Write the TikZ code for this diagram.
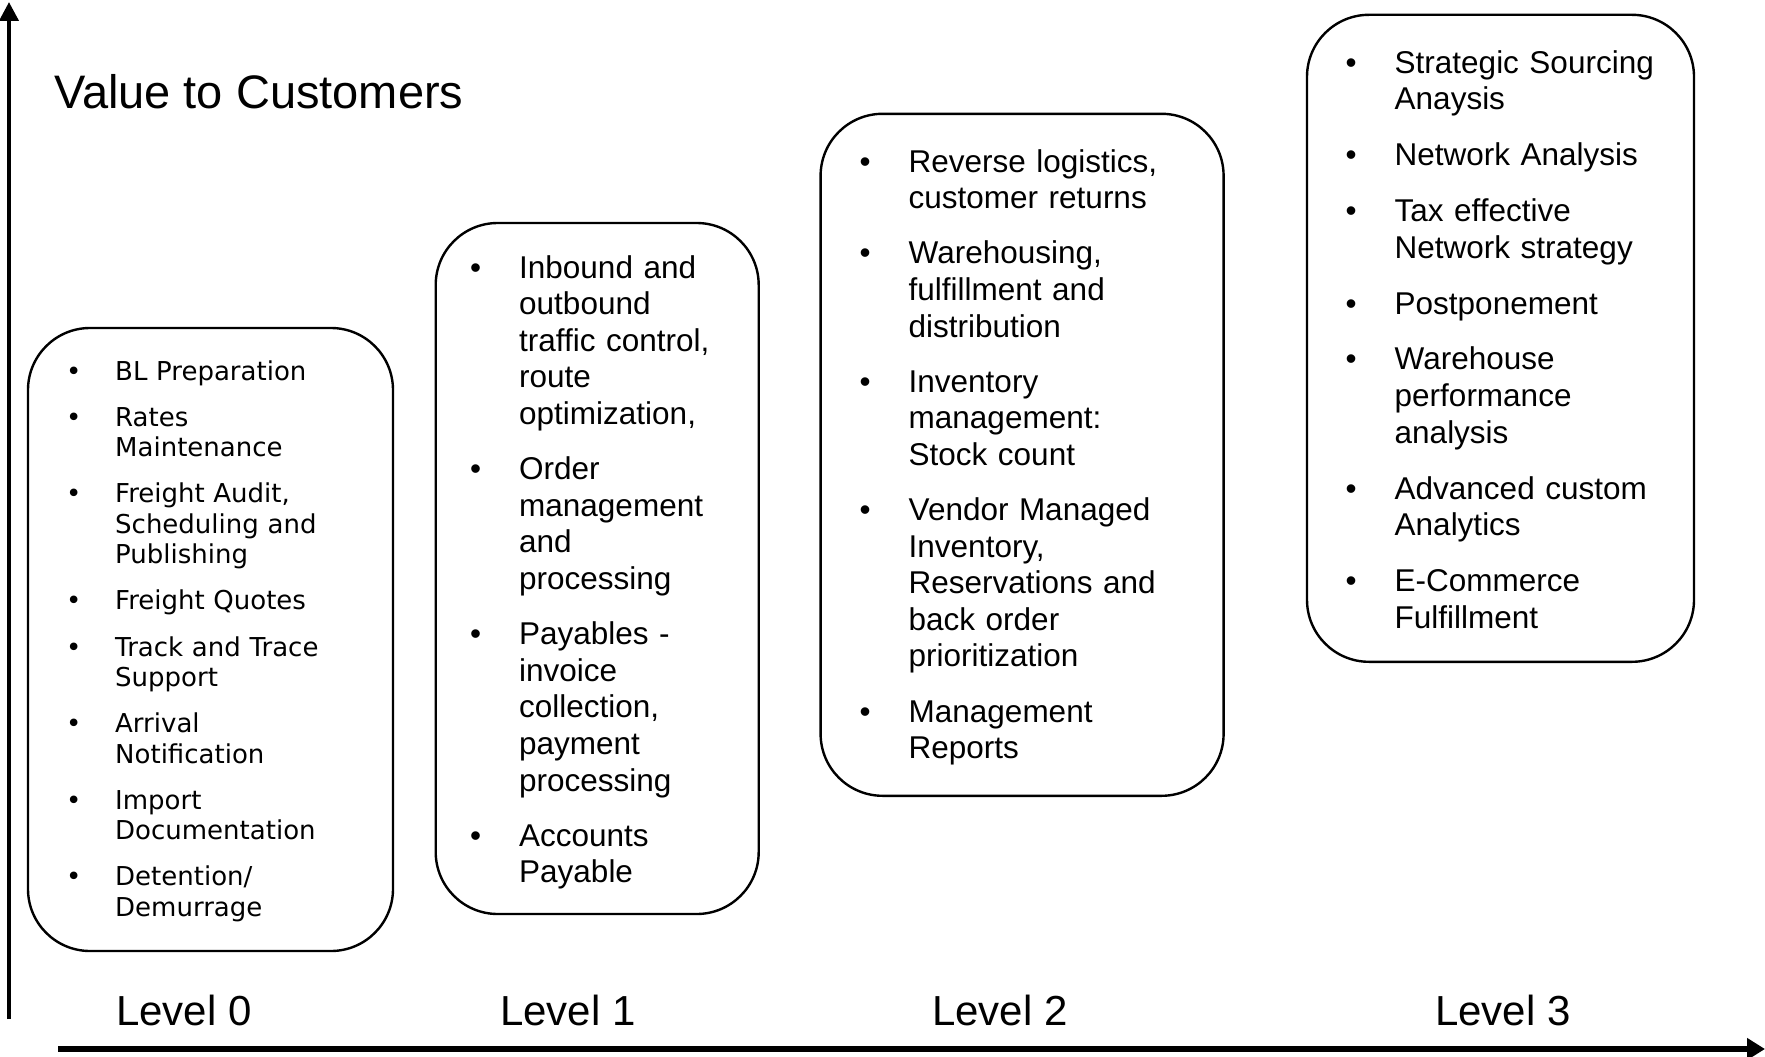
\documentclass[tikz,border=0pt]{standalone}
\usepackage{fontspec}
\setmainfont{Liberation Sans}
\newfontfamily\verdfont{DejaVu Sans}
\usetikzlibrary{arrows.meta}

% bullet list item: bullet, then text with hanging indent
\newlength\bind
\newlength\bgap
\setlength\bind{49pt}
\newcommand\bitem[1]{\par\hangindent=\bind\hangafter=1\noindent\strut\makebox[\bind][l]{\textbullet}#1\par\vspace{\bgap}}
\newcommand\listzero{\verdfont\fontsize{26}{30.4}\selectfont\setlength\bgap{15.8pt}}
\newcommand\listbig{\fontsize{31.5}{36.6}\selectfont\setlength\bgap{18.6pt}}

\begin{document}
\begin{tikzpicture}[x=1pt,y=-1pt,
  panel/.style={draw=black, line width=2.4pt, rounded corners=62pt, inner sep=0pt},
  items/.style={anchor=north west, inner sep=0pt, text width=420pt},
  levellabel/.style={anchor=base west, inner sep=0pt, font=\fontsize{42}{50}\selectfont},
  axisv/.style={line width=4pt, -{Triangle[width=19pt,length=19pt]}},
  axish/.style={line width=6pt, -{Triangle[width=21pt,length=18pt]}}]
\useasboundingbox (0,0) rectangle (1765,1057);

% axes
\coordinate (ybot) at (9,1019);
\coordinate (ytop) at (9,2);
\coordinate (xleft) at (58,1049);
\coordinate (xright) at (1765,1049);
\draw[axisv] (ybot) -- (ytop);
\draw[axish] (xleft) -- (xright);

\node[anchor=base west, inner sep=0pt, font=\fontsize{47}{56}\selectfont] (title) at (54,108) {Value to Customers};

% service panels
\node[panel, minimum width=365pt, minimum height=623pt] (b0) at (210.5,639.5) {};
\node[panel, minimum width=323pt, minimum height=691pt] (b1) at (597.2,568.5) {};
\node[panel, minimum width=403pt, minimum height=682pt] (b2) at (1022.1,454.8) {};
\node[panel, minimum width=387pt, minimum height=647pt] (b3) at (1500.5,338.3) {};

\node[items, font=\listzero] (t0) at (66,349.5) {%
  \bitem{BL Preparation}
  \bitem{Rates\newline Maintenance}
  \bitem{Freight Audit,\newline Scheduling and\newline Publishing}
  \bitem{Freight Quotes}
  \bitem{Track and Trace\newline Support}
  \bitem{Arrival\newline Notification}
  \bitem{Import\newline Documentation}
  \bitem{Detention/\newline Demurrage}};

\node[items, font=\listbig] (t1) at (470,241.2) {%
  \bitem{Inbound and\newline outbound\newline traffic control,\newline route\newline optimization,}
  \bitem{Order\newline management\newline and\newline processing}
  \bitem{Payables -\newline invoice\newline collection,\newline payment\newline processing}
  \bitem{Accounts\newline Payable}};

\node[items, font=\listbig] (t2) at (859.5,135.2) {%
  \bitem{Reverse logistics,\newline customer returns}
  \bitem{Warehousing,\newline fulfillment and\newline distribution}
  \bitem{Inventory\newline management:\newline Stock count}
  \bitem{Vendor Managed\newline Inventory,\newline Reservations and\newline back order\newline prioritization}
  \bitem{Management\newline Reports}};

\node[items, font=\listbig\setlength\bgap{19.3pt}] (t3) at (1345.5,36.4) {%
  \bitem{Strategic Sourcing\newline Anaysis}
  \bitem{Network Analysis}
  \bitem{Tax effective\newline Network strategy}
  \bitem{Postponement}
  \bitem{Warehouse\newline performance\newline analysis}
  \bitem{Advanced custom\newline Analytics}
  \bitem{E-Commerce\newline Fulfillment}};

% level labels along the horizontal axis
\node[levellabel] (l0) at (116,1025) {Level 0};
\node[levellabel] (l1) at (500,1025) {Level 1};
\node[levellabel] (l2) at (932,1025) {Level 2};
\node[levellabel] (l3) at (1435,1025) {Level 3};
\end{tikzpicture}
\end{document}
